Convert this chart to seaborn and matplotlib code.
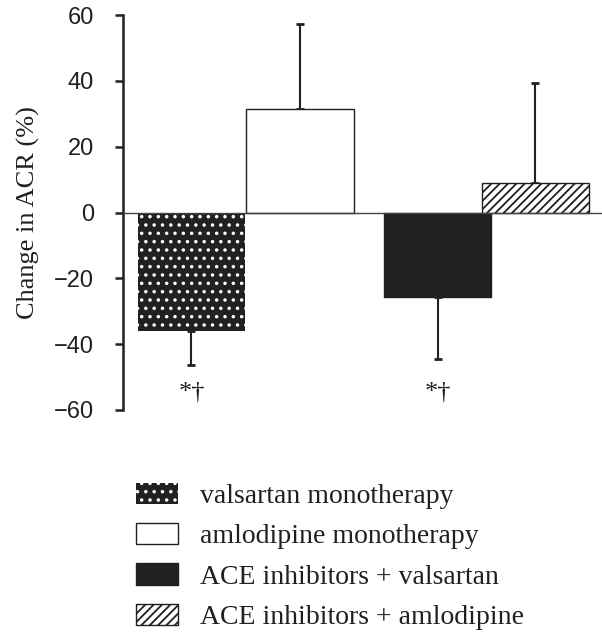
import numpy as np
import pandas as pd
import matplotlib
matplotlib.use("Agg")
import matplotlib.pyplot as plt
import seaborn as sns

# values
groups = ["valsartan monotherapy", "amlodipine monotherapy",
          "ACE inhibitors + valsartan", "ACE inhibitors + amlodipine"]
change_acr = [-36.0, 31.4, -25.6, 8.9]
error = [10.3, 25.9, 18.9, 30.5]
significant = [True, False, True, False]
yticks = [-60, -40, -20, 0, 20, 40, 60]

# layout: bar centres in units of bar width
positions = [0.0, 1.01, 2.29, 3.2]
bar_width = 1.0

ink = "#231f20"
colors = {groups[0]: ink, groups[1]: "white", groups[2]: ink, groups[3]: "white"}

sns.set_theme(style="white")
plt.rcParams["hatch.linewidth"] = 1.3

df = pd.DataFrame({"pos": positions, "change": change_acr, "group": groups})

fig = plt.figure(figsize=(6.02, 6.32), dpi=100)
ax = fig.add_axes([123 / 602, 1 - 410 / 632, 479 / 602, 395 / 632])

native_unit = np.min(np.diff(sorted(positions)))
sns.barplot(data=df, x="pos", y="change", hue="group", hue_order=groups,
            palette=colors, native_scale=True, dodge=False, errorbar=None,
            width=bar_width / native_unit, legend=False, ax=ax)

# bar styling: dotted black, open white, solid black, hatched white
styles = [
    dict(edgecolor="white", linewidth=0, hatch=".."),
    dict(edgecolor=ink, linewidth=1.0, hatch=None),
    dict(edgecolor=ink, linewidth=1.0, hatch=None),
    dict(edgecolor=ink, linewidth=1.0, hatch="////"),
]
handles = []
for cont, st in zip(ax.containers, styles):
    for p in cont.patches:
        p.set_edgecolor(st["edgecolor"])
        p.set_linewidth(st["linewidth"])
        if st["hatch"]:
            p.set_hatch(st["hatch"])
        p.set_zorder(3)
    handles.append(cont.patches[0])

# one-sided error bars pointing away from zero
for x, v, e in zip(positions, change_acr, error):
    lower = [e] if v < 0 else [0]
    upper = [e] if v >= 0 else [0]
    ax.errorbar([x], [v], yerr=[lower, upper], fmt="none", ecolor=ink,
                elinewidth=1.5, capsize=3, capthick=2, zorder=2)

for x, sig in zip(positions, significant):
    if sig:
        ax.text(x, -54.6, "*†", ha="center", va="center", fontsize=19,
                family="Liberation Serif", color=ink)

ax.axhline(0, color="#444444", linewidth=1.0, zorder=4)

ax.set_xlim(-0.637, 3.82)
ax.set_ylim(-60, 60)
ax.set_yticks(yticks)
ax.set_yticklabels([str(t).replace("-", "\u2212") for t in yticks],
                   family="Liberation Sans", fontsize=17)
ax.set_xticks([])
ax.set_xlabel("")
ax.set_ylabel("Change in ACR (%)", family="Liberation Serif", fontsize=19,
              color=ink, labelpad=10)
ax.tick_params(axis="y", direction="out", length=6, width=1.8, pad=15,
               left=True, colors=ink)
for side in ["top", "right", "bottom"]:
    ax.spines[side].set_visible(False)
ax.spines["left"].set_linewidth(1.8)
ax.spines["left"].set_color(ink)

leg = fig.legend(handles=handles, labels=groups, loc="upper left",
                 bbox_to_anchor=(136 / 602, 1 - 483 / 632), frameon=False,
                 prop={"family": "Liberation Serif", "size": 20},
                 handlelength=1.52, handleheight=0.8, handletextpad=0.78,
                 labelspacing=0.5, borderpad=0, borderaxespad=0)
for t in leg.get_texts():
    t.set_color(ink)

fig.savefig("out.png", dpi=100)
